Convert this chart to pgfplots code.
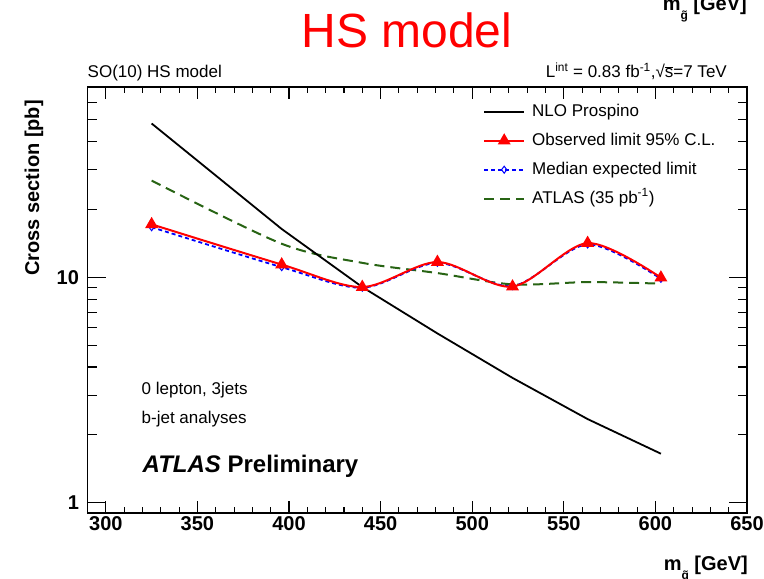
\documentclass[border=0pt]{standalone}
\usepackage{fontspec}
\setmainfont{Liberation Sans}
\usepackage{pgfplots}
\pgfplotsset{compat=1.18}
\definecolor{atlasgreen}{RGB}{40,100,20}
\newcommand{\sqrts}{\char"221A{\setbox0\hbox{s}\rlap{\rule[\dimexpr\ht0+1.2bp\relax]{\wd0}{0.8bp}}s}}
\newcommand{\gtilde}{{\ooalign{g\cr\hidewidth\char"02DC\hidewidth\cr}}}
\begin{document}
\begin{tikzpicture}[x=1bp,y=1bp]
\begin{axis}[
  at={(87.5bp,66bp)}, anchor=south west,
  scale only axis, width=659.5bp, height=426bp,
  xmin=290, xmax=650, ymin=0.9, ymax=70,
  ymode=log,
  xtick={300,350,400,450,500,550,600,650},
  minor x tick num=4,
  ytick={1,10}, yticklabels={1,10},
  minor ytick={2,3,4,5,6,7,8,9,20,30,40,50,60},
  axis line style={line width=1.3bp},
  tick style={black, line width=1.1bp},
  major tick length=12bp, minor tick length=6bp,
  ytick style={/pgfplots/major tick length=18bp, /pgfplots/minor tick length=9bp},
  ticklabel style={font=\fontsize{20bp}{20bp}\selectfont\bfseries},
  /pgf/number format/assume math mode=true,
  /pgf/number format/1000 sep={},
  yticklabel style={xshift=-5bp},
  legend style={draw=none, fill=none, inner sep=0pt,
    at={(rel axis cs:0.5997,0.9624)}, anchor=north west,
    font=\fontsize{17bp}{20bp}\selectfont,
    row sep=12bp, column sep=7bp,
    nodes={inner sep=0pt, text height=13bp, text depth=4bp},
    cells={anchor=west}},
  legend image code/.code={\draw[mark repeat=2,mark phase=2,#1] plot coordinates {(0bp,0bp) (20bp,0bp) (40bp,0bp)};},
]
\addlegendimage{black, line width=1.8bp}
\addlegendentry{NLO Prospino}
\addlegendimage{red, line width=2bp, mark=triangle*, mark size=5.5bp, mark options={solid}}
\addlegendentry{Observed limit 95\% C.L.}
\addlegendimage{blue, line width=1.8bp, dash pattern=on 4bp off 3bp, mark=diamond, mark size=3.5bp, mark options={solid, line width=1bp}}
\addlegendentry{Median expected limit}
\addlegendimage{atlasgreen, line width=2bp, dash pattern=on 10bp off 6bp}
\addlegendentry{ATLAS (35 pb\textsuperscript{-1})}

\addplot[forget plot, atlasgreen, line width=2bp, dash pattern=on 10bp off 6bp, smooth] coordinates {
(325,26.9) (396,14.1) (440,11.6) (481,10.45) (522,9.31) (563,9.53) (603,9.38)};
\addplot[forget plot, black, line width=1.8bp] coordinates {
(325,48.2) (396,16.4) (440,9.06) (481,5.64) (522,3.58) (563,2.35) (603,1.65)};
\addplot[forget plot, blue, line width=1.8bp, dash pattern=on 4bp off 3bp, smooth, mark=diamond, mark size=3.5bp, mark options={solid, line width=1bp}] coordinates {
(325,16.7) (396,11.1) (440,9.0) (481,11.6) (522,9.15) (563,14.0) (603,9.85)};
\addplot[forget plot, red, line width=2bp, smooth, mark=triangle*, mark size=5.5bp, mark options={solid}] coordinates {
(325,17.2) (396,11.4) (440,9.06) (481,11.7) (522,9.1) (563,14.2) (603,9.97)};
\end{axis}

% texts outside / inside the frame
\node[anchor=base, text=red, font=\fontsize{48bp}{48bp}\selectfont, inner sep=0pt] at (407,531) {HS model};
\node[anchor=base west, font=\fontsize{17bp}{20bp}\selectfont, inner sep=0pt] at (87.5,501) {SO(10) HS model};
\node[anchor=base east, font=\fontsize{17bp}{20bp}\selectfont, inner sep=0pt] at (727,501) {L\textsuperscript{int} = 0.83 fb\textsuperscript{-1},\sqrts=7 TeV};
\node[anchor=base east, rotate=90, font=\fontsize{20bp}{20bp}\selectfont\bfseries, inner sep=0pt] at (39,479) {Cross section [pb]};
\node[anchor=base east, font=\fontsize{20bp}{20bp}\selectfont\bfseries, inner sep=0pt] at (748,8) {m\raisebox{-0.45em}{\fontsize{12bp}{12bp}\selectfont\gtilde} [GeV]};
\node[anchor=base east, font=\fontsize{20bp}{20bp}\selectfont\bfseries, inner sep=0pt] at (747,568) {m\raisebox{-0.45em}{\fontsize{12bp}{12bp}\selectfont\gtilde} [GeV]};
\node[anchor=base west, font=\fontsize{17bp}{20bp}\selectfont, inner sep=0pt] at (141.5,184) {0 lepton, 3jets};
\node[anchor=base west, font=\fontsize{17bp}{20bp}\selectfont, inner sep=0pt] at (141.5,155) {b-jet analyses};
\node[anchor=base west, font=\fontsize{24bp}{24bp}\selectfont\bfseries, inner sep=0pt] at (142.5,106) {\textit{ATLAS} Preliminary};

\pgfresetboundingbox
\useasboundingbox (0,0) rectangle (764,579);
\end{tikzpicture}
\end{document}
